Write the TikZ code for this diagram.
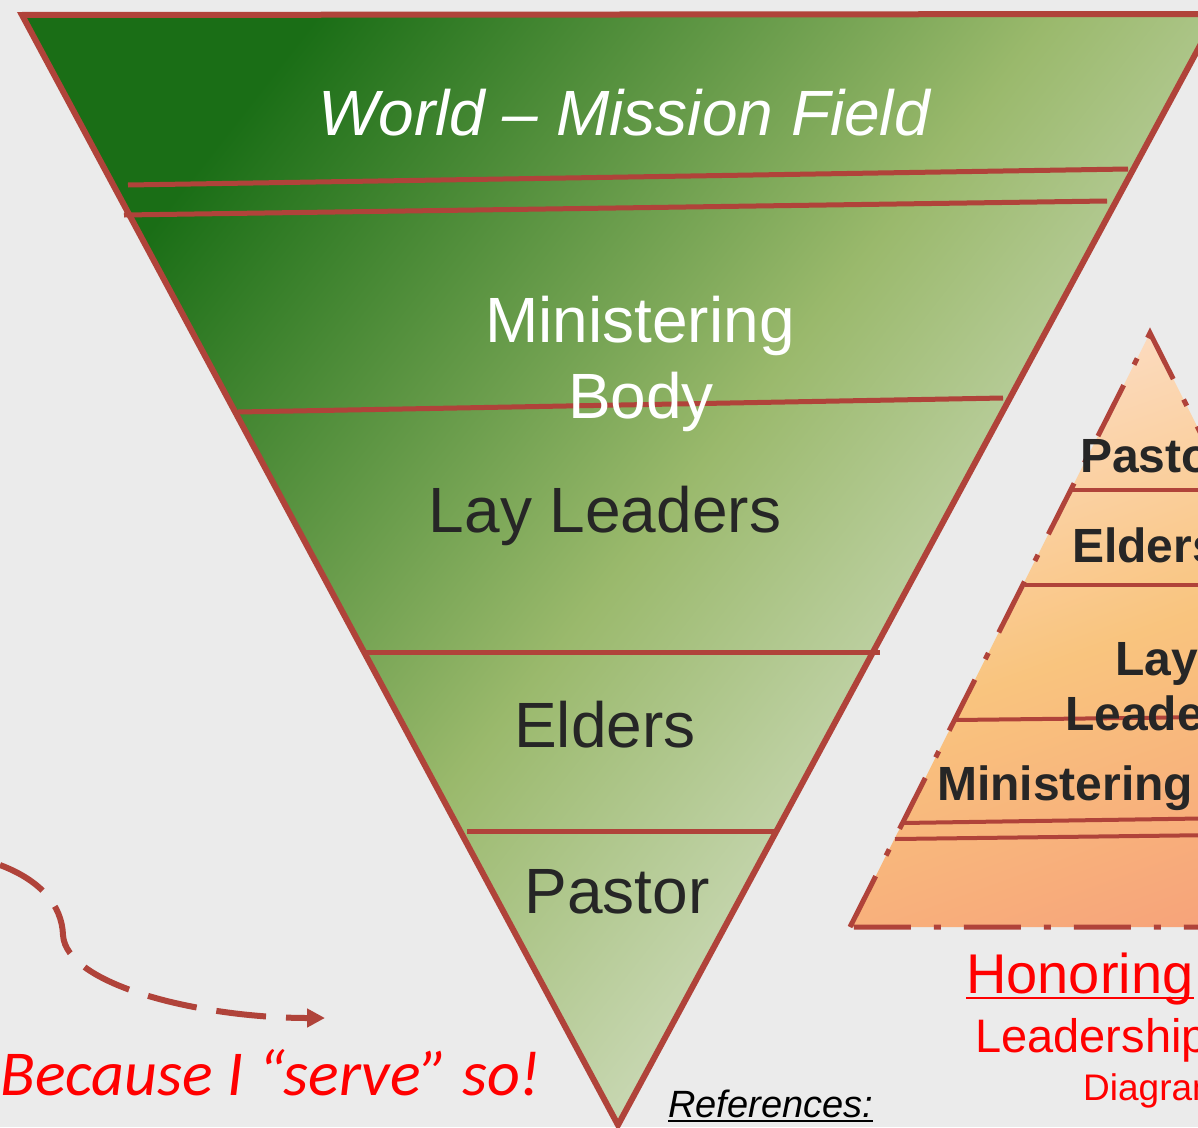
\documentclass[tikz,border=0pt]{standalone}
\usepackage{fontspec}
\setmainfont{Liberation Sans}
\newfontfamily\calib{Carlito}
\usetikzlibrary{arrows.meta}
\definecolor{bg}{HTML}{EBEBEB}
\definecolor{rline}{HTML}{B0433A}
\definecolor{gA}{HTML}{1A6E16}
\definecolor{gB}{HTML}{9AB96C}
\definecolor{gC}{HTML}{E8ECE3}
\definecolor{oA}{HTML}{FCDCC2}
\definecolor{oB}{HTML}{F9C47E}
\definecolor{oC}{HTML}{F7A37A}
\definecolor{dtext}{HTML}{262626}
\definecolor{redtext}{HTML}{FF0000}
\begin{document}
\begin{tikzpicture}[x=1pt,y=-1pt,
  sep/.style={draw=rline,line width=5pt},
  psep/.style={draw=rline,line width=4pt},
  bigtext/.style={anchor=base,inner sep=0pt,font=\fontsize{64}{70}\selectfont},
  pyrtext/.style={anchor=base west,inner sep=0pt,text=dtext,font=\fontsize{48}{52}\selectfont\bfseries},
  redlabel/.style={anchor=base west,inner sep=0pt,text=redtext}]
\useasboundingbox (0,0) rectangle (1198,1127);
\clip (0,0) rectangle (1198,1127);
\fill[bg] (0,0) rectangle (1198,1127);

% green inverted triangle
\path[top color=gA, bottom color=gC, middle color=gB, shading angle=52]
  (22,15) -- (1217,14) -- (618,1125) -- cycle;
\draw[sep] (128,185) -- (1128,169);
\draw[sep] (124,215) -- (1107,201);
\draw[sep] (238,412) -- (1003,398);
\draw[sep] (362,652) -- (880,652);
\draw[sep] (467,831) -- (774,831);
\draw[rline, line width=6pt, line join=miter] (22,15) -- (1217,14) -- (618,1125) -- cycle;

\node[bigtext, text=white, font=\fontsize{64}{70}\selectfont\itshape] (world) at (624,135) {World – Mission Field};
\node[bigtext, text=white] (mb1) at (640,342) {Ministering};
\node[bigtext, text=white] (mb2) at (641,418) {Body};
\node[bigtext, text=dtext] (lay) at (605,532) {Lay Leaders};
\node[bigtext, text=dtext] (eld) at (605,747) {Elders};
\node[bigtext, text=dtext] (pas) at (617,913) {Pastor};

% orange pyramid
\path[top color=oA, bottom color=oC, middle color=oB, shading angle=20]
  (1150,333) -- (1450,927) -- (850,927) -- cycle;
\draw[psep] (1070,490) -- (1300,490);
\draw[psep] (1025,585) -- (1300,585);
\draw[psep] (955,720) -- (1300,716);
\draw[psep] (902,823) -- (1300,817);
\draw[psep] (895,839) -- (1300,834);
\draw[rline, line width=5pt, dash pattern=on 57pt off 23pt on 7pt off 23pt]
  (850,927) -- (1150,333) -- (1450,927) -- cycle;

\node[pyrtext] (ppas) at (1080,472) {Pastor};
\node[pyrtext] (peld) at (1072,562) {Elders};
\node[pyrtext] (play) at (1115,675) {Lay};
\node[pyrtext] (plead) at (1065,730) {Leaders};
\node[pyrtext] (pmin) at (937,800) {Ministering};

% red labels
\node[redlabel, font=\fontsize{56}{60}\selectfont] (hon) at (966,993) {Honoring};
\draw[redtext, line width=2.5pt] ([yshift=-5pt]hon.base west) -- ([yshift=-5pt]hon.base east);
\node[redlabel, font=\fontsize{47}{52}\selectfont] (lead) at (975,1052) {Leadership};
\node[redlabel, font=\fontsize{37}{40}\selectfont] (diag) at (1083,1100) {Diagram};

\node[redlabel, font=\fontsize{64}{68}\calib\itshape] (because) at (0,1095) {Because I “serve” so!};

\node[anchor=base west, inner sep=0pt, text=black, font=\fontsize{38}{42}\selectfont\itshape] (refs) at (668,1117) {References:};
\draw[black, line width=2.5pt] ([yshift=-4pt]refs.base west) -- ([yshift=-4pt]refs.base east);

% dashed arrow
\coordinate (a0) at (0,865);
\coordinate (a1) at (63,935);
\coordinate (a2) at (325,1018);
\draw[rline, line width=6pt, dash pattern=on 50pt off 20pt, -{Triangle[length=18pt,width=18pt]}]
  (a0) .. controls (40,880) and (62,905) .. (a1) .. controls (66,985) and (200,1018) .. (a2);
\end{tikzpicture}
\end{document}
